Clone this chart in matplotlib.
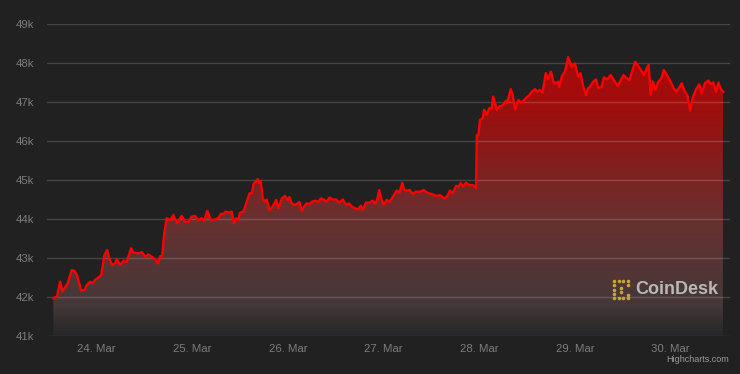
import numpy as np
import pandas as pd
import matplotlib
matplotlib.use("Agg")
import matplotlib.pyplot as plt
import matplotlib.dates as mdates
from matplotlib.colors import LinearSegmentedColormap

# hours since 23 Mar 2022 00:00 and BTC price (USD)
hours = [13.2, 14.1, 14.9, 15.5, 16.2, 16.8, 17.8, 18.5, 19.1, 20.2, 21.0, 21.6, 22.4, 23.0, 23.7,
         24.5, 25.2, 26.0, 26.7, 27.2, 27.9, 28.7, 29.1, 29.9, 30.8, 31.6, 32.0, 32.7, 33.3, 34.5,
         35.4, 36.2, 37.0, 37.9, 38.7, 39.4, 40.0, 40.5, 41.0, 41.6, 42.5, 43.3, 44.2, 45.4, 46.2,
         47.1, 47.9, 48.7, 49.6, 50.4, 51.0, 51.8, 52.7, 53.8, 54.6, 55.2, 55.8, 56.5, 57.3, 57.9,
         58.5, 59.0, 59.6, 60.0, 60.9, 61.7, 62.4, 63.0, 63.4, 64.0, 64.4, 64.9, 65.2, 65.7, 66.3,
         66.7, 67.4, 68.2, 69.1, 69.6, 70.5, 71.3, 71.9, 72.4, 73.0, 73.8, 74.4, 74.9, 75.5, 76.1,
         76.7, 77.4, 78.0, 78.8, 79.7, 80.3, 81.1, 81.8, 82.4, 83.3, 84.1, 84.9, 85.8, 86.6, 87.4,
         88.0, 88.9, 89.7, 90.3, 90.8, 91.6, 92.4, 93.3, 93.9, 94.4, 94.9, 95.5, 96.1, 96.8, 97.5,
         98.3, 99.3, 100.0, 100.7, 101.2, 102.0, 102.6, 103.3, 104.1, 105.1, 106.1, 107.0, 108.1,
         109.2, 110.2, 111.2, 111.8, 112.7, 113.4, 114.2, 114.8, 115.4, 115.9, 116.7, 117.5, 118.4,
         119.2, 119.4, 119.8, 120.2, 120.9, 121.2, 121.9, 122.5, 123.1, 123.5, 124.0, 124.4, 125.0,
         125.9, 126.7, 127.0, 127.9, 128.4, 129.0, 129.8, 130.6, 131.7, 132.6, 133.2, 134.0, 134.6,
         135.2, 135.9, 136.7, 137.3, 138.0, 138.6, 139.2, 139.8, 140.1, 140.7, 141.5, 142.3, 143.2,
         144.0, 144.8, 145.4, 146.1, 146.8, 147.3, 147.8, 148.6, 149.3, 149.9, 150.7, 151.3, 152.1,
         153.0, 153.8, 154.7, 155.5, 156.2, 157.0, 157.7, 158.2, 159.1, 159.9, 160.8, 161.3, 162.0,
         162.5, 163.0, 163.6, 164.2, 164.9, 165.7, 166.3, 167.1, 168.0, 168.8, 169.5, 170.2, 170.8,
         171.6, 172.2, 172.9, 173.5, 174.4, 175.2, 175.8, 176.6, 177.5, 178.1, 178.7, 179.4, 180.0,
         180.6, 181.2]

prices = [41970, 42010, 42390, 42140, 42260, 42350, 42690, 42670, 42560, 42160, 42180, 42310, 42390, 42350, 42440,
          42500, 42560, 43080, 43200, 42990, 42820, 42860, 42970, 42820, 42930, 42900, 43030, 43250, 43140, 43120,
          43150, 43030, 43090, 43030, 42970, 42860, 43050, 43050, 43630, 44020, 43970, 44100, 43890, 44080, 43930,
          43930, 44060, 44080, 43970, 44020, 43950, 44210, 43970, 43990, 44020, 44130, 44130, 44190, 44160, 44190,
          43890, 44020, 43970, 44160, 44190, 44440, 44660, 44660, 44900, 44960, 45020, 44930, 44980, 44520, 44440,
          44500, 44230, 44320, 44490, 44270, 44530, 44590, 44490, 44560, 44400, 44360, 44390, 44440, 44210, 44320,
          44400, 44380, 44440, 44470, 44440, 44530, 44490, 44440, 44550, 44500, 44500, 44420, 44500, 44360, 44400,
          44320, 44270, 44250, 44340, 44230, 44420, 44420, 44470, 44400, 44490, 44740, 44500, 44360, 44490, 44440,
          44560, 44730, 44670, 44930, 44740, 44730, 44740, 44640, 44700, 44700, 44740, 44670, 44640,
          44590, 44610, 44530, 44560, 44730, 44660, 44850, 44830, 44920, 44830, 44930, 44870, 44870,
          44790, 46150, 46150, 46540, 46580, 46800, 46670, 46840, 46840, 47140, 46970, 46800, 46880,
          46920, 47030, 46970, 47330, 47180, 46810, 47050, 46980, 47100, 47180, 47260, 47330, 47260,
          47310, 47240, 47740, 47580, 47780, 47520, 47480, 47520, 47390, 47650, 47780, 48150, 47900,
          47990, 47650, 47740, 47390, 47180, 47350, 47390, 47520, 47580, 47350, 47390, 47630, 47580,
          47690, 47560, 47410, 47560, 47690, 47610, 47560, 47740, 48030, 47920, 47780, 47690, 47860,
          47950, 47180, 47520, 47310, 47520, 47610, 47820, 47690, 47520, 47350, 47260, 47380, 47480,
          47260, 47180, 46780, 47100, 47330, 47450, 47220, 47480, 47550, 47460, 47500, 47260, 47500,
          47330, 47260]

y_ticks = [41000, 42000, 43000, 44000, 45000, 46000, 47000, 48000, 49000]
y_labels = ["41k", "42k", "43k", "44k", "45k", "46k", "47k", "48k", "49k"]
day_ticks = ["2022-03-24", "2022-03-25", "2022-03-26", "2022-03-27",
             "2022-03-28", "2022-03-29", "2022-03-30"]

bg = "#212121"
start = pd.Timestamp("2022-03-23")
t = mdates.date2num(start + pd.to_timedelta(hours, unit="h"))
p = np.array(prices)

fig = plt.figure(figsize=(7.4, 3.74), dpi=100, facecolor=bg)
ax = fig.add_axes([47 / 740, 38 / 374, 683 / 740, 312 / 374])
ax.set_facecolor(bg)

x0 = mdates.date2num(start + pd.Timedelta(hours=11.6))
x1 = mdates.date2num(start + pd.Timedelta(hours=182.9))

# gradient fill under the line (grey at the bottom, red at the top)
stops = [(0.0, (0.15, 0.15, 0.15)), (0.11, (0.27, 0.22, 0.22)), (0.42, (0.41, 0.19, 0.19)),
         (0.70, (0.56, 0.09, 0.09)), (0.85, (0.64, 0.05, 0.05)), (1.0, (0.65, 0.04, 0.04))]
cmap = LinearSegmentedColormap.from_list("grad", stops)
grad = np.linspace(0, 1, 256).reshape(-1, 1)
img = ax.imshow(grad, aspect="auto", cmap=cmap, origin="lower",
                extent=[t[0], t[-1], 41000, p.max()], zorder=1)
poly = ax.fill_between(t, p, 41000, color="none", lw=0)
img.set_clip_path(poly.get_paths()[0], transform=ax.transData)
ax.set_xlim(x0, x1)
ax.set_ylim(41000, 49000)

ax.plot(t, p, color="#ff0000", lw=1.7, zorder=3, solid_joinstyle="round")

ax.set_yticks(y_ticks)
ax.set_yticklabels(y_labels)
ax.set_xticks(mdates.date2num(pd.to_datetime(day_ticks)))
ax.xaxis.set_major_formatter(mdates.DateFormatter("%d. %b"))

# grid lines show faintly through the fill
ax.grid(axis="y", color="white", alpha=0.17, lw=1)
ax.set_axisbelow(False)
for s in ax.spines.values():
    s.set_visible(False)
ax.tick_params(axis="y", length=0, pad=9.5, labelsize=8.2, labelcolor="#7d7d7d")
ax.tick_params(axis="x", length=0, pad=6, labelsize=8.2, labelcolor="#7d7d7d")
for lab in ax.get_xticklabels() + ax.get_yticklabels():
    lab.set_family("Liberation Sans")

# watermark logo
fig.text(635 / 740, 1 - 290 / 374, "CoinDesk", color="#b8b8b8", fontsize=13,
         fontweight="bold", family="Liberation Sans", va="center", ha="left")
dots_x = [614, 614, 614, 614, 614, 618.5, 623, 627.5, 618.5, 623, 627.5, 627.5, 627.5, 621, 621]
dots_y = [281, 285.3, 289.6, 294, 298, 281, 281, 281, 298, 298, 298, 284.5, 294.5, 287.5, 291.5]
fig.add_artist(plt.Line2D([dx / 740 for dx in dots_x], [1 - dy / 374 for dy in dots_y],
                          ls="none", marker="o", ms=2.6, mew=0, color="#c9a23a",
                          transform=fig.transFigure))
fig.text(729 / 740, 1 - 360 / 374, "Highcharts.com", color="#9a9a9a", fontsize=6.5,
         family="Liberation Sans", ha="right", va="center")

fig.savefig("out.png", dpi=100, facecolor=bg)
